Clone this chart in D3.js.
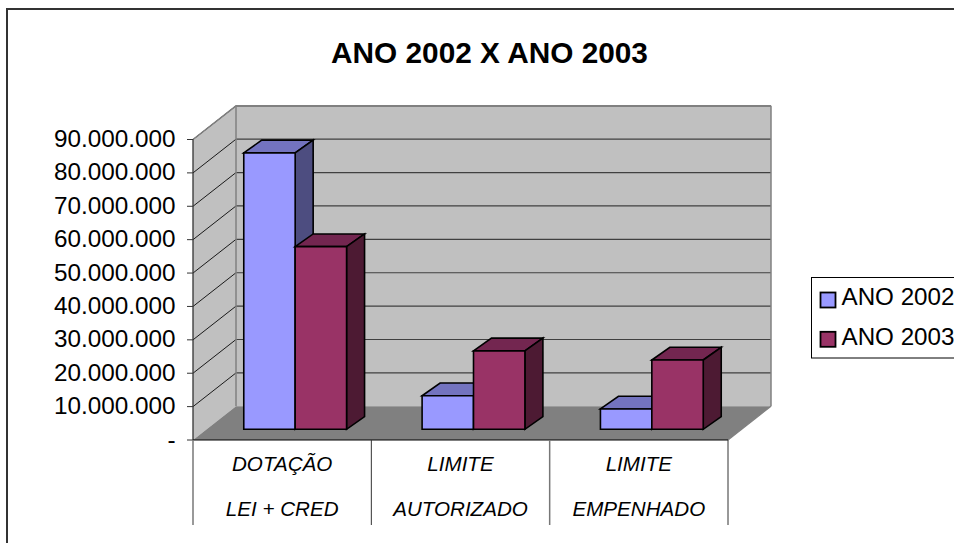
<!DOCTYPE html>
<html><head><meta charset="utf-8">
<script src="https://cdn.jsdelivr.net/npm/d3@7"></script>
<style>html,body{margin:0;padding:0;background:#fff;overflow:hidden}svg{display:block}text{font-family:"Liberation Sans",Arial,sans-serif;fill:#000}</style>
</head><body><svg id="c" width="954" height="543"></svg>
<script>
const categories=[["DOTAÇÃO","LEI + CRED"],["LIMITE","AUTORIZADO"],["LIMITE","EMPENHADO"]];
const seriesNames=["ANO 2002","ANO 2003"];
const ano2002=[82800000,10050000,6100000];
const ano2003=[54700000,23500000,20750000];
const seriesColors=["#9999ff","#993366"];
const sideColors=["#4d4d80","#4d1a33"];
const topColors=["#7373bf","#732650"];
const yTicks=[0,10,20,30,40,50,60,70,80,90].map(d=>d*1e6);
const title="ANO 2002 X ANO 2003";
const svg=d3.select("#c");
const x=d3.scaleBand().domain(d3.range(3)).range([193,728]);
const y=d3.scaleLinear().domain([0,90000000]).range([440,139.5]);
const wd=[43,-33.7], bd=[18,-12.7], bo=[13,-10.7];
const fmt=v=>v===0?"-":d3.format(",")(v).replace(/,/g,".");
const poly=(pts,fill,stroke,sw)=>svg.append("path").attr("d","M"+pts.map(p=>p.join(",")).join("L")+"Z").attr("fill",fill).attr("stroke",stroke||"none").attr("stroke-width",sw||0).attr("stroke-linejoin","miter");
const line=(a,b,c,sw)=>svg.append("line").attr("x1",a[0]).attr("y1",a[1]).attr("x2",b[0]).attr("y2",b[1]).attr("stroke",c).attr("stroke-width",sw);
// frame
svg.append("rect").attr("x",7).attr("y",9).attr("width",960).attr("height",550).attr("fill","#fff").attr("stroke","#333").attr("stroke-width",2);
svg.append("text").attr("x",489.5).attr("y",63).attr("text-anchor","middle").attr("font-size",29.8).attr("font-weight","bold").text(title);
// walls
const x0=193,x1=728,yT=y(90000000),yB=y(0);
poly([[x0+wd[0],yT+wd[1]],[x1+wd[0],yT+wd[1]],[x1+wd[0],yB+wd[1]],[x0+wd[0],yB+wd[1]]],"#c0c0c0");
poly([[x0,yT],[x0+wd[0],yT+wd[1]],[x0+wd[0],yB+wd[1]],[x0,yB]],"#c0c0c0");
poly([[x0,yB],[x1,yB],[x1+wd[0],yB+wd[1]],[x0+wd[0],yB+wd[1]]],"#808080");
yTicks.slice(1).forEach(t=>{const p=y(t);
  line([x0,p],[x0+wd[0],p+wd[1]],"#1a1a1a",1);
  line([x0+wd[0],p+wd[1]],[x1+wd[0],p+wd[1]],"#404040",1.2);
});
line([x0+wd[0],yT+wd[1]],[x1+wd[0],yT+wd[1]],"#808080",1.5);
line([x0,yT],[x0+wd[0],yT+wd[1]],"#808080",1.5);
line([x0+wd[0],yT+wd[1]],[x0+wd[0],yB+wd[1]],"#808080",1.5);
line([x1+wd[0],yT+wd[1]],[x1+wd[0],yB+wd[1]],"#808080",1.5);
line([x1,yB],[x1+wd[0],yB+wd[1]],"#808080",1.2);
// bars
const bw=51.4;
[ano2002,ano2003].forEach((s,si)=>{s.forEach((v,i)=>{
  const cx=x(i)+x.bandwidth()/2+bo[0];
  const l=cx-bw+si*bw, r=l+bw;
  const b=yB+bo[1], t=b-(yB-y(v));
  const g="#000",w=1.6;
  poly([[l,t],[l+bd[0],t+bd[1]],[r+bd[0],t+bd[1]],[r,t]],topColors[si],g,w);
  poly([[r,t],[r+bd[0],t+bd[1]],[r+bd[0],b+bd[1]],[r,b]],sideColors[si],g,w);
  poly([[l,t],[r,t],[r,b],[l,b]],seriesColors[si],g,w);
});});
// axes
line([x0,yT],[x0,yB],"#333",1.3);
line([x0,yB],[x1,yB],"#000",1);
yTicks.forEach(t=>{line([x0-6,y(t)],[x0,y(t)],"#333",1);
  svg.append("text").attr("x",175.5).attr("y",y(t)+7.5).attr("text-anchor","end").attr("font-size",24.3).text(fmt(t));});
// category separators and labels
d3.range(4).forEach(i=>line([x0+i*x.bandwidth(),yB],[x0+i*x.bandwidth(),525],i%2?"#333":"#777",i%2?1:1.5));
categories.forEach((c,i)=>{const cx=x(i)+x.bandwidth()/2;
  c.forEach((s,k)=>svg.append("text").attr("x",cx).attr("y",[470.7,515.7][k]).attr("text-anchor","middle").attr("font-size",20.6).attr("font-style","italic").text(s));});
// legend
svg.append("rect").attr("x",811.5).attr("y",277.5).attr("width",160).attr("height",80.5).attr("fill","#fff").attr("stroke","#000").attr("stroke-width",1);
seriesNames.forEach((n,i)=>{
  svg.append("rect").attr("x",820.5).attr("y",292.5).attr("transform",`translate(0,${i*39.3})`).attr("width",15).attr("height",15).attr("fill",seriesColors[i]).attr("stroke","#000").attr("stroke-width",1.8);
  svg.append("text").attr("x",841.5).attr("y",[305,345][i]).attr("font-size",24.2).text(n);});
</script></body></html>
